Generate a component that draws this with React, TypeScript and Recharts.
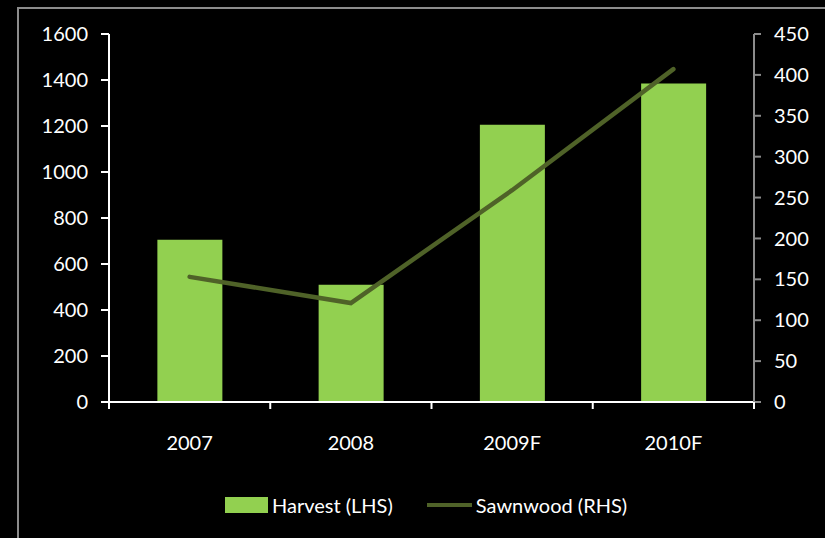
import { ComposedChart, Bar, Line, XAxis, YAxis, Legend } from "recharts";

const categories = ["2007", "2008", "2009F", "2010F"];
const harvest = [705, 510, 1205, 1385];
const sawnwood = [153, 121, 259, 407];
const leftTicks = [0, 200, 400, 600, 800, 1000, 1200, 1400, 1600];
const rightTicks = [0, 50, 100, 150, 200, 250, 300, 350, 400, 450];

const BAR_COLOR = "#92D050";
const LINE_COLOR = "#4F6228";
const FONT = "Lato, 'Open Sans', sans-serif";

const data = categories.map((name, i) => ({
  name,
  harvest: harvest[i],
  sawnwood: sawnwood[i],
}));

// Excel puts the category tick marks between the bars, so draw them at band edges
const CategoryTick = (props: any) => {
  const { x, y, payload, index, visibleTicksCount } = props;
  const half = payload.offset ?? 0;
  const axisY = y - 7 - 27;
  return (
    <g>
      <line x1={x - half} x2={x - half} y1={axisY} y2={axisY + 7} stroke="#fff" strokeWidth={2} />
      {index === visibleTicksCount - 1 && (
        <line x1={x + half} x2={x + half} y1={axisY} y2={axisY + 7} stroke="#fff" strokeWidth={2} />
      )}
      <text x={x} y={y} dy="0.71em" textAnchor="middle" fill="#fff" fontFamily={FONT} fontSize={20}>
        {payload.value}
      </text>
    </g>
  );
};

const renderLegend = () => (
  <div
    style={{
      display: "flex",
      alignItems: "center",
      paddingLeft: 225,
      height: 30,
      fontFamily: FONT,
      fontSize: 20,
      color: "#fff",
    }}
  >
    <span style={{ width: 43, height: 16, background: BAR_COLOR, display: "inline-block" }} />
    <span style={{ marginLeft: 4 }}>Harvest (LHS)</span>
    <span
      style={{
        width: 45,
        height: 4,
        background: LINE_COLOR,
        display: "inline-block",
        marginLeft: 34,
      }}
    />
    <span style={{ marginLeft: 4 }}>Sawnwood (RHS)</span>
  </div>
);

const App = () => {
  return (
    <div
      style={{
        position: "fixed",
        left: 0,
        top: 0,
        width: 825,
        height: 538,
        background: "#000",
        overflow: "hidden",
      }}
    >
      <div
        style={{
          position: "absolute",
          left: 17,
          top: 7,
          width: 900,
          height: 600,
          border: "2px solid #8c8c8c",
        }}
      />
      <ComposedChart
        width={825}
        height={538}
        data={data}
        margin={{ top: 34, right: 0, left: 0, bottom: 18 }}
        barCategoryGap="30%"
        style={{ position: "absolute", left: 0, top: 0 }}
      >
        <XAxis
          dataKey="name"
          height={88}
          stroke="#fff"
          strokeWidth={2}
          tickLine={false}
          tickSize={7}
          tickMargin={27}
          tick={<CategoryTick />}
        />
        <YAxis
          yAxisId="left"
          orientation="left"
          width={109}
          domain={[0, 1600]}
          ticks={leftTicks}
          interval={0}
          stroke="#fff"
          strokeWidth={2}
          tickSize={8}
          tickMargin={13}
          tick={{ fill: "#fff", fontFamily: FONT, fontSize: 20 }}
        />
        <YAxis
          yAxisId="right"
          orientation="right"
          width={71}
          domain={[0, 450]}
          ticks={rightTicks}
          interval={0}
          stroke="#8c8c8c"
          strokeWidth={2}
          tickSize={7}
          tickMargin={13}
          tick={{ fill: "#fff", fontFamily: FONT, fontSize: 20 }}
        />
        <Bar
          yAxisId="left"
          dataKey="harvest"
          name="Harvest (LHS)"
          fill={BAR_COLOR}
          isAnimationActive={false}
        />
        <Line
          yAxisId="right"
          dataKey="sawnwood"
          name="Sawnwood (RHS)"
          stroke={LINE_COLOR}
          strokeWidth={4.5}
          strokeLinecap="round"
          dot={false}
          activeDot={false}
          isAnimationActive={false}
        />
        <Legend verticalAlign="bottom" content={renderLegend} />
      </ComposedChart>
    </div>
  );
};

export default App;
